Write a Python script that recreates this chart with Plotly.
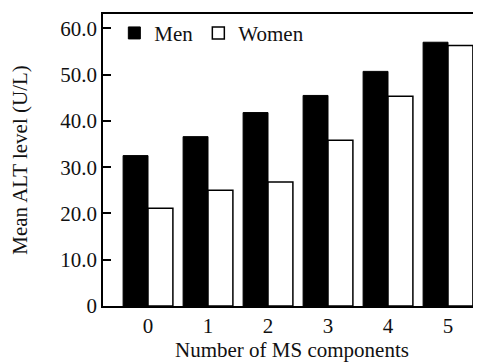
import plotly.graph_objects as go

categories = ["0", "1", "2", "3", "4", "5"]
men = [32.5, 36.6, 41.8, 45.5, 50.7, 57.0]
women = [21.1, 25.0, 26.8, 35.8, 45.3, 56.3]
ytick_vals = [0, 10, 20, 30, 40, 50, 60]
ytick_text = ["0", "10.0", "20.0", "30.0", "40.0", "50.0", "60.0"]

FONT = "Liberation Serif"

fig = go.Figure()
fig.add_trace(go.Bar(x=categories, y=men, name="Men",
                     marker=dict(color="black", line=dict(color="black", width=1))))
fig.add_trace(go.Bar(x=categories, y=women, name="Women",
                     marker=dict(color="white", line=dict(color="black", width=1.5))))

fig.update_layout(
    width=473, height=354,
    margin=dict(l=95, r=0, t=5.5, b=56),
    paper_bgcolor="white", plot_bgcolor="white",
    font=dict(family=FONT, size=21, color="#111"),
    barmode="group", bargap=0.17, bargroupgap=0,
    showlegend=True,
    legend=dict(orientation="h", x=0.03, xanchor="left", y=0.934, yanchor="middle",
                bgcolor="rgba(0,0,0,0)", font=dict(family=FONT, size=21), itemclick=False),
    xaxis=dict(type="category", range=[-0.75, 5.55], showline=True, linecolor="black",
               linewidth=1.5, mirror=True, ticks="", showgrid=False, zeroline=False,
               title=dict(text="Number of MS components", standoff=9, font=dict(family=FONT, size=21)),
               tickfont=dict(family=FONT, size=21)),
    yaxis=dict(range=[0, 63.1], tickvals=ytick_vals, ticktext=ytick_text,
               showline=True, linecolor="black", linewidth=1.5, ticks="inside",
               ticklen=8, tickcolor="black", tickwidth=1.5, showgrid=False, zeroline=False,
               title=dict(text="Mean ALT level (U/L)", standoff=28, font=dict(family=FONT, size=21)),
               tickfont=dict(family=FONT, size=21)),
)

fig.write_html("out.html")
